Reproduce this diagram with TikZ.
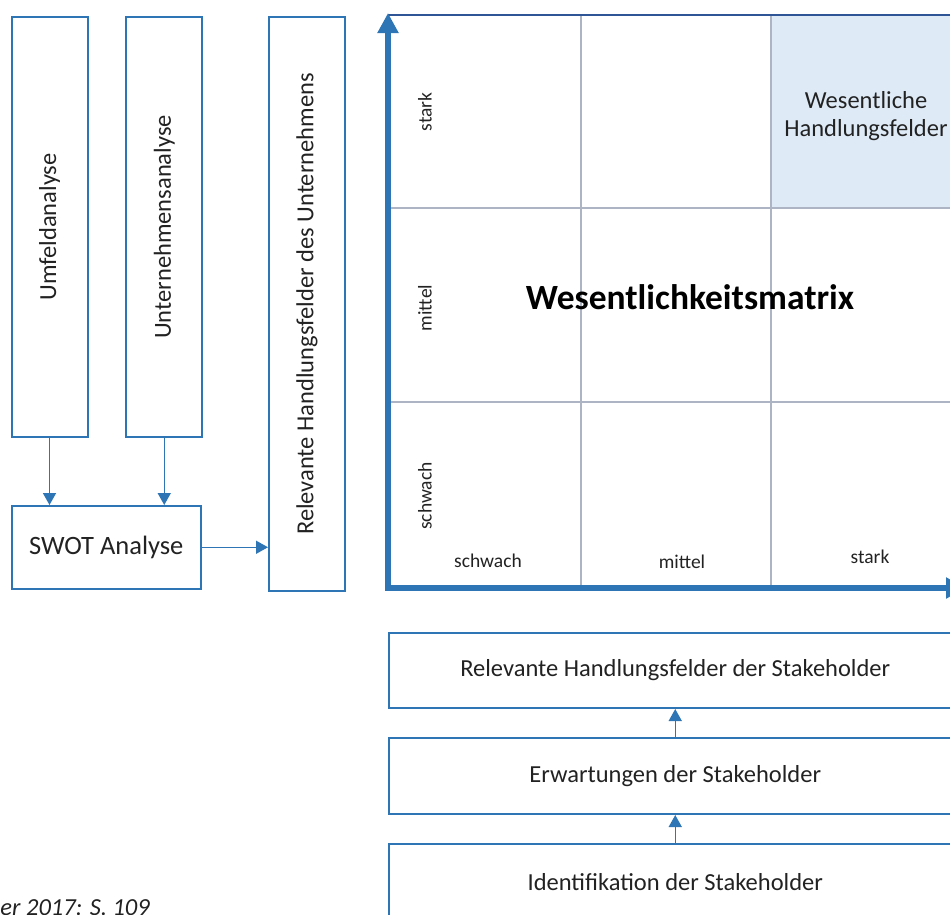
\documentclass[tikz,border=0pt]{standalone}
\usepackage{fontspec}
\setmainfont{Carlito}
\usepackage{graphicx}
\usetikzlibrary{arrows.meta}
\definecolor{bblue}{HTML}{2E75B6}
\definecolor{dblue}{HTML}{2F5597}
\definecolor{gridc}{HTML}{ADB5C4}
\definecolor{hl}{HTML}{DEEBF7}
\definecolor{txt}{HTML}{222222}
\newcommand\setfs[1]{\fontsize{#1}{#1}\selectfont}
\begin{document}
\begin{tikzpicture}[x=1pt,y=-1pt,
  box/.style={draw=bblue, line width=2pt, inner sep=0pt, text=txt, font=\setfs{24.5}},
  flow/.style={draw=bblue, line width=1.5pt, -{Triangle[width=13pt,length=12pt]}},
  axisline/.style={draw=bblue, line width=6pt, line join=miter,
    {Triangle[width=20pt,length=20pt]}-{Triangle[width=20pt,length=20pt]}},
  gridline/.style={draw=gridc, line width=1.5pt},
  small/.style={text=txt, font=\setfs{19.5}, inner sep=0pt},
  lbl/.style={text=txt, font=\setfs{24.5}, inner sep=0pt, align=center}]
\useasboundingbox (0,0) rectangle (950,914);
\clip (0,0) rectangle (950,914);
% left column
\node[box, minimum width=76pt, minimum height=420pt] (umfeld) at (49.5,227) {\rotatebox{90}{Umfeldanalyse}};
\node[box, minimum width=76pt, minimum height=420pt] (unt) at (164.25,227) {\rotatebox{90}{Unternehmensanalyse}};
\node[box, minimum width=76pt, minimum height=574pt] (relu) at (307,304) {\rotatebox{90}{Relevante Handlungsfelder des Unternehmens}};
\node[box, minimum width=189.5pt, minimum height=82.5pt, font=\setfs{26.5}] (swot) at (106.25,547.25) {SWOT Analyse};
\draw[flow] (umfeld.south) -- (umfeld.south |- swot.north);
\draw[flow] (unt.south) -- (unt.south |- swot.north);
\draw[flow] (swot.east) -- (swot.east -| relu.west);
% matrix
\node[fill=hl, inner sep=0pt, minimum width=193pt, minimum height=193pt] (wes) at (867.5,111.5) {};
\node[lbl] (westext) at (866,116) {Wesentliche\\[4pt]Handlungsfelder};
\coordinate (o) at (388,588);
\coordinate (ytip) at (388,13);
\coordinate (xtip) at (966,588);
\draw[gridline] (581,15) -- (581,588);
\draw[gridline] (771,15) -- (771,588);
\draw[gridline] (388,208) -- (964,208);
\draw[gridline] (388,402) -- (964,402);
\draw[draw=dblue, line width=1.5pt] (388,15) -- (964,15);
\draw[axisline] (ytip) -- (o) -- (xtip);
\node[small, rotate=90] (rs) at (425,112) {stark};
\node[small, rotate=90] (rm) at (425,308) {mittel};
\node[small, rotate=90] (rw) at (425,496) {schwach};
\node[small] (cw) at (488,561) {schwach};
\node[small] (cm) at (682,562) {mittel};
\node[small] (cs) at (870,557) {stark};
\node[text=black, font=\setfs{35.5}\bfseries, inner sep=0pt] (title) at (690,297) {Wesentlichkeitsmatrix};
% bottom stack
\node[box, minimum width=573.5pt, minimum height=75pt] (rels) at (675.25,670.5) {Relevante Handlungsfelder der Stakeholder};
\node[box, minimum width=573.5pt, minimum height=76pt] (erw) at (675.25,776) {Erwartungen der Stakeholder};
\node[box, minimum width=573.5pt, minimum height=76pt] (ident) at (675.25,882) {Identifikation der Stakeholder};
\draw[flow] (erw.north) -- (rels.south);
\draw[flow] (ident.north) -- (erw.south);
% caption
\node[anchor=base east, inner sep=0pt, text=txt, font=\setfs{24.5}\itshape] (cap) at (150,915.5) {er 2017: S. 109};
\end{tikzpicture}
\end{document}
